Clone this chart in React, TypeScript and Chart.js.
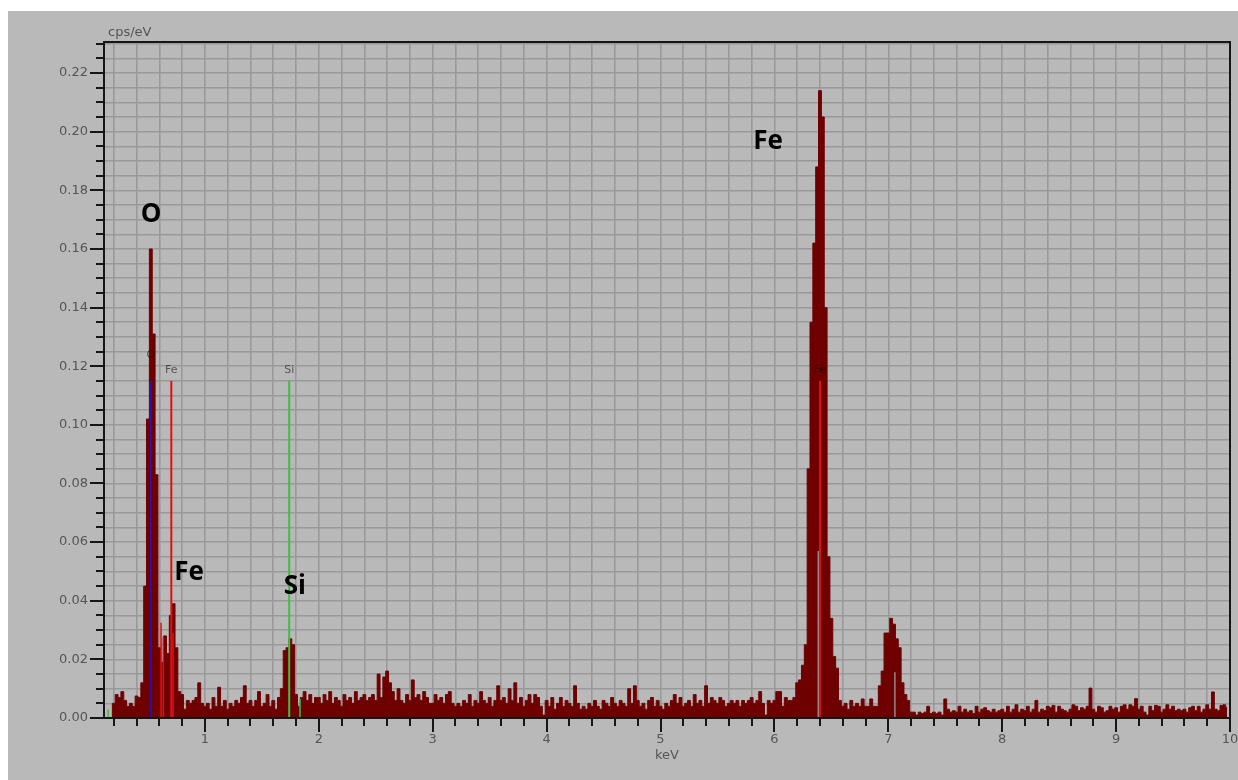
import { useEffect, useRef } from 'react';
import { Chart, registerables } from 'chart.js';

Chart.register(...registerables);

// ---------------- DATA ----------------
// Spectrum channels: centre of first channel and channel width (keV)
const CHANNEL_START = 0.125;
const CHANNEL_WIDTH = 0.025;

// cps/eV per channel, one row per keV
const cps0to1 = [
  0, 0, 0, 0.005, 0.008, 0.007, 0.009, 0.006, 0.004, 0.005,
  0.004, 0.0075, 0.007, 0.012, 0.045, 0.102, 0.16, 0.131, 0.083, 0.024,
  0.019, 0.028, 0.022, 0.035, 0.039, 0.024, 0.009, 0.008, 0.003, 0.006,
  0.005, 0.006, 0.007, 0.012, 0.005,
];
const cps1to2 = [
  0.004, 0.005, 0.003, 0.007, 0.004, 0.0105, 0.004, 0.006, 0.003, 0.005,
  0.004, 0.006, 0.005, 0.007, 0.011, 0.005, 0.006, 0.004, 0.006, 0.009,
  0.004, 0.005, 0.008, 0.004, 0.006, 0.003, 0.007, 0.010, 0.023, 0.024,
  0.027, 0.025, 0.008, 0.004, 0.007, 0.009, 0.006, 0.008, 0.005, 0.007,
];
const cps2to3 = [
  0.007, 0.005, 0.008, 0.006, 0.009, 0.005, 0.007, 0.006, 0.004, 0.008,
  0.006, 0.007, 0.005, 0.009, 0.006, 0.007, 0.008, 0.006, 0.007, 0.008,
  0.006, 0.015, 0.007, 0.014, 0.016, 0.012, 0.009, 0.006, 0.010, 0.006,
  0.005, 0.008, 0.006, 0.013, 0.007, 0.008, 0.006, 0.009, 0.007, 0.005,
];
const cps3to4 = [
  0.005, 0.008, 0.006, 0.007, 0.005, 0.008, 0.009, 0.005, 0.004, 0.005,
  0.004, 0.006, 0.005, 0.008, 0.004, 0.006, 0.005, 0.009, 0.006, 0.005,
  0.007, 0.004, 0.006, 0.011, 0.006, 0.007, 0.005, 0.010, 0.006, 0.012,
  0.005, 0.007, 0.004, 0.006, 0.008, 0.005, 0.008, 0.007, 0.004, 0.001,
];
const cps4to5 = [
  0.006, 0.004, 0.007, 0.003, 0.005, 0.007, 0.004, 0.006, 0.005, 0.004,
  0.011, 0.005, 0.003, 0.004, 0.003, 0.005, 0.004, 0.006, 0.004, 0.003,
  0.006, 0.005, 0.004, 0.007, 0.005, 0.004, 0.006, 0.005, 0.004, 0.010,
  0.005, 0.011, 0.006, 0.004, 0.005, 0.003, 0.006, 0.007, 0.004, 0.006,
];
const cps5to6 = [
  0.004, 0.003, 0.005, 0.004, 0.006, 0.008, 0.005, 0.007, 0.004, 0.005,
  0.006, 0.004, 0.008, 0.005, 0.006, 0.004, 0.011, 0.005, 0.007, 0.006,
  0.005, 0.007, 0.006, 0.004, 0.005, 0.006, 0.005, 0.006, 0.004, 0.006,
  0.005, 0.006, 0.007, 0.005, 0.006, 0.009, 0.005, 0.001, 0.006, 0.005,
];
const cps6to7 = [
  0.006, 0.009, 0.009, 0.004, 0.007, 0.006, 0.006, 0.007, 0.012, 0.013,
  0.018, 0.025, 0.085, 0.135, 0.162, 0.188, 0.214, 0.205, 0.14, 0.055,
  0.034, 0.021, 0.017, 0.006, 0.004, 0.005, 0.003, 0.006, 0.004, 0.005,
  0.004, 0.0065, 0.004, 0.004, 0.0065, 0.004, 0.004, 0.011, 0.016, 0.029,
];
const cps7to8 = [
  0.029, 0.034, 0.032, 0.027, 0.024, 0.012, 0.008, 0.006, 0.002, 0.002,
  0.001, 0.002, 0.0015, 0.002, 0.004, 0.0015, 0.002, 0.0015, 0.002, 0.001,
  0.0065, 0.003, 0.002, 0.0025, 0.002, 0.004, 0.002, 0.003, 0.002, 0.0025,
  0.0015, 0.004, 0.002, 0.003, 0.0035, 0.0025, 0.002, 0.003, 0.002, 0.0025,
];
const cps8to9 = [
  0.003, 0.002, 0.004, 0.002, 0.003, 0.0045, 0.002, 0.003, 0.0025, 0.004,
  0.002, 0.003, 0.006, 0.002, 0.003, 0.0025, 0.004, 0.0035, 0.0043, 0.002,
  0.004, 0.003, 0.0025, 0.002, 0.003, 0.0045, 0.004, 0.0025, 0.0035, 0.003,
  0.004, 0.0102, 0.003, 0.002, 0.004, 0.0035, 0.002, 0.0025, 0.004, 0.003,
];
const cps9to10 = [
  0.0035, 0.002, 0.004, 0.0045, 0.003, 0.0045, 0.004, 0.0066, 0.003, 0.004,
  0.002, 0.001, 0.004, 0.0025, 0.0043, 0.004, 0.002, 0.003, 0.0045, 0.003,
  0.004, 0.0025, 0.003, 0.0025, 0.003, 0.002, 0.0035, 0.004, 0.0025, 0.004,
  0.002, 0.003, 0.0045, 0.003, 0.0089, 0.003, 0.0025, 0.0043, 0.0045, 0.0035,
];

const counts = [
  ...cps0to1, ...cps1to2, ...cps2to3, ...cps3to4, ...cps4to5,
  ...cps5to6, ...cps6to7, ...cps7to8, ...cps8to9, ...cps9to10,
];

// Element marker lines (keV, cps/eV)
const lineLabels = ['O', 'Fe', 'Si', 'Fe'];
const lineEnergies = [0.525, 0.705, 1.74, 6.4];
const lineHeights = [0.115, 0.115, 0.115, 0.115];
const lineLabelValues = [0.1238, 0.1187, 0.1187, 0.1187];

const minorLineEnergies = [0.15, 0.615, 0.635, 0.72, 1.835, 6.385, 7.058];
const minorLineHeights = [0.003, 0.0325, 0.0277, 0.029, 0.0065, 0.057, 0.0156];

// Large peak annotations
const peakTexts = ['O', 'Fe', 'Si', 'Fe'];
const peakEnergies = [0.527, 0.86, 1.79, 5.944];
const peakValues = [0.1716, 0.0495, 0.0447, 0.1965];

// Axes
const X_MIN = 0.114;
const X_MAX = 10;
const Y_MIN = 0;
const Y_MAX = 0.2306;
const X_STEP = 0.2;
const Y_STEP = 0.005;
const Y_LABEL_STEP = 0.02;

// ---------------- STYLES ----------------
const W = 1230;
const H = 769;
const BG = '#b9b9b9';
const GRID = '#999999';
const AXIS = '#161616';
const TEXT = '#555555';
const SPECTRUM = '#6e0000';
const lineColors = ['#2a10b0', '#e01010', '#3fbf3f', '#e01010'];
const minorLineColors = ['#3fbf3f', '#e01010', '#e01010', '#e01010', '#3fbf3f', '#8c8c8c', '#8c8c8c'];
const FONT = 'DejaVu Sans';

const isMultiple = (v: number, step: number) => Math.abs(v / step - Math.round(v / step)) < 1e-6;

const decorPlugin = {
  id: 'decor',
  afterDatasetsDraw(chart: any) {
    const { ctx, scales } = chart;
    const x = scales.x;
    const y = scales.y;
    ctx.save();
    ctx.font = `11px "${FONT}"`;
    ctx.fillStyle = 'rgba(0,0,0,0.55)';
    ctx.textAlign = 'center';
    ctx.textBaseline = 'middle';
    lineLabels.forEach((t, i) => {
      ctx.fillText(t, x.getPixelForValue(lineEnergies[i]), y.getPixelForValue(lineLabelValues[i]));
    });
    ctx.restore();
  },
  afterDraw(chart: any) {
    const { ctx, chartArea: a, scales } = chart;
    const x = scales.x;
    const y = scales.y;
    ctx.save();
    ctx.strokeStyle = AXIS;
    ctx.lineWidth = 2;
    ctx.strokeRect(a.left, a.top, a.right - a.left, a.bottom - a.top);
    ctx.beginPath();
    for (const t of x.ticks) {
      const px = Math.round(x.getPixelForValue(t.value));
      const len = isMultiple(t.value, 1) ? 14 : 8;
      ctx.moveTo(px, a.bottom);
      ctx.lineTo(px, a.bottom + len);
    }
    for (const t of y.ticks) {
      const py = Math.round(y.getPixelForValue(t.value));
      const len = isMultiple(t.value, Y_LABEL_STEP) ? 14 : 8;
      ctx.moveTo(a.left, py);
      ctx.lineTo(a.left - len, py);
    }
    ctx.stroke();
    ctx.fillStyle = TEXT;
    ctx.font = `13px "${FONT}"`;
    ctx.textBaseline = 'middle';
    ctx.textAlign = 'left';
    ctx.fillText('cps/eV', a.left + 4, a.top - 9);
    ctx.textAlign = 'center';
    ctx.fillText('keV', (a.left + a.right) / 2, a.bottom + 38);
    ctx.fillStyle = '#000000';
    ctx.font = 'bold 26px "Open Sans"';
    peakTexts.forEach((t, i) => {
      ctx.fillText(t, x.getPixelForValue(peakEnergies[i]), y.getPixelForValue(peakValues[i]));
    });
    ctx.restore();
  },
};

export default function App() {
  const ref = useRef<HTMLCanvasElement>(null);

  useEffect(() => {
    if (!ref.current) return;
    const spectrum = counts.map((v, i) => ({ x: CHANNEL_START + i * CHANNEL_WIDTH, y: v }));
    const markerSets = lineEnergies.map((e, i) => ({
      label: lineLabels[i],
      data: [{ x: e, y: 0 }, { x: e, y: lineHeights[i] }],
      borderColor: lineColors[i],
      borderWidth: 2,
      pointRadius: 0,
      fill: false,
      order: 1,
    }));
    const minorSets = minorLineEnergies.map((e, i) => ({
      label: 'minor' + i,
      data: [{ x: e, y: 0 }, { x: e, y: minorLineHeights[i] }],
      borderColor: minorLineColors[i],
      borderWidth: 1.5,
      pointRadius: 0,
      fill: false,
      order: 1,
    }));

    const chart = new Chart(ref.current, {
      type: 'line',
      data: {
        datasets: [
          ...markerSets,
          ...minorSets,
          {
            label: 'spectrum',
            data: spectrum,
            stepped: 'middle',
            fill: 'origin',
            backgroundColor: SPECTRUM,
            borderColor: SPECTRUM,
            borderWidth: 1,
            pointRadius: 0,
            order: 2,
          } as any,
        ],
      },
      options: {
        animation: false,
        responsive: false,
        devicePixelRatio: 1,
        layout: { padding: { top: 31, right: 8, left: 0, bottom: 0 } },
        plugins: { legend: { display: false }, tooltip: { enabled: false } },
        scales: {
          x: {
            type: 'linear',
            min: X_MIN,
            max: X_MAX,
            afterFit: (s: any) => { s.height = 62; s.paddingRight = 0; s.paddingLeft = 0; },
            border: { display: false },
            grid: { color: GRID, lineWidth: 1.6, drawTicks: false },
            ticks: {
              stepSize: X_STEP,
              includeBounds: false,
              autoSkip: false,
              maxRotation: 0,
              padding: 14,
              color: TEXT,
              font: { family: FONT, size: 13 },
              callback: (v: any) => (isMultiple(Number(v), 1) ? String(Math.round(Number(v))) : ''),
            },
          },
          y: {
            type: 'linear',
            min: Y_MIN,
            max: Y_MAX,
            afterFit: (s: any) => { s.width = 96; s.paddingTop = 0; s.paddingBottom = 0; },
            border: { display: false },
            grid: { color: GRID, lineWidth: 1.6, drawTicks: false },
            ticks: {
              stepSize: Y_STEP,
              includeBounds: false,
              autoSkip: false,
              padding: 16,
              color: TEXT,
              font: { family: FONT, size: 13 },
              callback: (v: any) => (isMultiple(Number(v), Y_LABEL_STEP) ? Number(v).toFixed(2) : ''),
            },
          },
        },
      },
      plugins: [decorPlugin],
    });
    return () => chart.destroy();
  }, []);

  return (
    <div style={{ position: 'fixed', left: 8, top: 11, width: W, height: H, background: BG }}>
      <canvas ref={ref} width={W} height={H} style={{ display: 'block', width: W, height: H }} />
    </div>
  );
}
